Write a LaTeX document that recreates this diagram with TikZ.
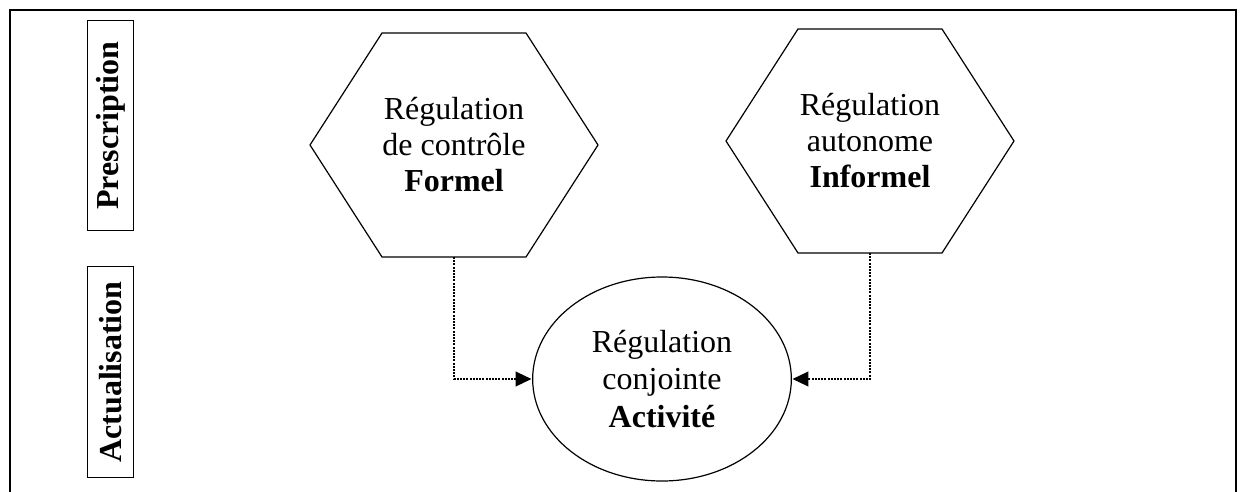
\documentclass[tikz,border=0pt]{standalone}
\usepackage{fontspec}
\setmainfont{Liberation Serif}
\usetikzlibrary{calc,shapes.geometric,arrows.meta}
\def\hexagon[#1](#2)(#3:#4:#5){\draw[#1] ($(#2)+(-#3,0)$) -- ++(#5,-#4) -- ++({2*(#3-#5)},0) -- ++(#5,#4) -- ++(-#5,#4) -- ++({-2*(#3-#5)},0) -- cycle;}
\tikzset{
	txt/.style={align=center, font=\fontsize{24}{27}\selectfont, inner sep=0pt},
	side/.style={draw, line width=0.9pt, rotate=90, minimum width=158pt, minimum height=34pt, inner sep=0pt, font=\fontsize{24}{27}\selectfont\bfseries},
	oval/.style={ellipse, draw, line width=0.9pt, minimum width=194pt, minimum height=153pt, inner sep=0pt, align=center, font=\fontsize{24}{28}\selectfont},
	link/.style={line width=1.6pt, dash pattern=on 1.5pt off 0.9pt, -{Triangle[length=12pt,width=11pt]}, shorten >=0.4pt}
}
\begin{document}
\begin{tikzpicture}[x=0.75pt,y=-0.75pt]
			%%%%% FRAME %%%%%
			\useasboundingbox (0,0) rectangle (1245,492);
			\draw[line width=1.4pt] (10,492) -- (10,10) -- (1236,10) -- (1236,492);
			
			\node[side] (presc) at (110.5,125.5) {Prescription};
			\node[side] (actu) at (110.5,372) {Actualisation};
			
			%%%%% HEXAGONS %%%%%
			\coordinate (hexA) at (454,145);
			\coordinate (hexB) at (870,141);
			\hexagon[line width=0.9pt](hexA)(144:112:72);
			\hexagon[line width=0.9pt](hexB)(144:112:72);
			\node[txt] (formel) at (hexA) {Régulation\\de contrôle\\\textbf{Formel}};
			\node[txt] (informel) at (hexB) {Régulation\\autonome\\\textbf{Informel}};
			\coordinate (formel-b) at ($(hexA)+(0,112)$);
			\coordinate (informel-b) at ($(hexB)+(0,112)$);
			
			%%%%% ACTIVITY %%%%%
			\node[oval] (activ) at (662,379) {Régulation\\conjointe\\\textbf{Activité}};
			
			\draw[link] (formel-b) |- (activ.west);
			\draw[link] (informel-b) |- (activ.east);
\end{tikzpicture}
\end{document}
